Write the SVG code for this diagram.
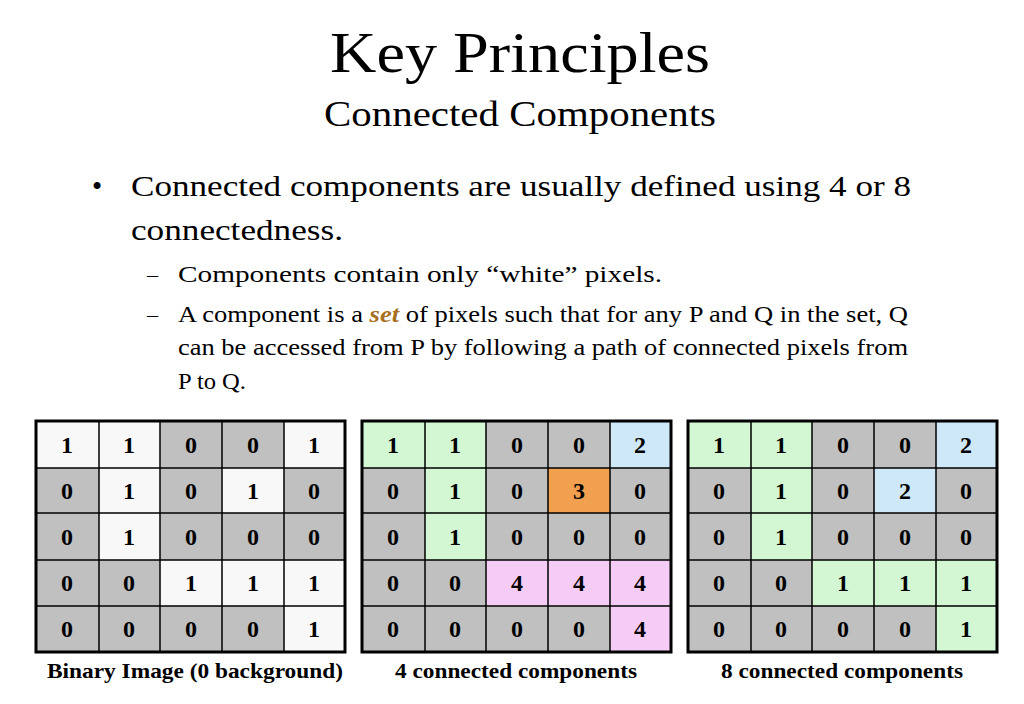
<svg xmlns="http://www.w3.org/2000/svg" width="1024" height="704" viewBox="0 0 1024 704">
<style>
text{font-family:"Liberation Serif","Times New Roman",Times,"Nimbus Roman",serif;fill:#000}
.n{font-size:24px;font-weight:bold;text-anchor:middle}
.cap{font-size:22px;font-weight:bold;text-anchor:middle}
.g{fill:#c0c0c0}.w{fill:#f8f8f8}.gr{fill:#d2f7d2}.b{fill:#cfe8f8}.o{fill:#f0a04f}.p{fill:#f5ccf5}
.ln{stroke:#000;stroke-width:1.5;fill:none}
.out{stroke:#000;stroke-width:3;fill:none}
</style>
<rect width="1024" height="704" fill="#fff"/>
<text x="520" y="72" font-size="58" text-anchor="middle" textLength="380" lengthAdjust="spacingAndGlyphs">Key Principles</text>
<text x="520" y="126" font-size="36" text-anchor="middle" textLength="392" lengthAdjust="spacingAndGlyphs">Connected Components</text>
<text x="92" y="196" font-size="29">•</text>
<text x="131" y="196" font-size="30" textLength="780" lengthAdjust="spacingAndGlyphs">Connected components are usually defined using 4 or 8</text>
<text x="131" y="240" font-size="30" textLength="212" lengthAdjust="spacingAndGlyphs">connectedness.</text>
<text x="147" y="282" font-size="22">–</text>
<text x="178" y="282" font-size="24" textLength="484" lengthAdjust="spacingAndGlyphs">Components contain only “white” pixels.</text>
<text x="147" y="322" font-size="22">–</text>
<text x="178" y="322" font-size="24" textLength="730" lengthAdjust="spacingAndGlyphs">A component is a <tspan fill="#a8701e" font-weight="bold" font-style="italic">set</tspan> of pixels such that for any P and Q in the set, Q</text>
<text x="178" y="355" font-size="24" textLength="730" lengthAdjust="spacingAndGlyphs">can be accessed from P by following a path of connected pixels from</text>
<text x="178" y="389" font-size="24" textLength="68" lengthAdjust="spacingAndGlyphs">P to Q.</text>

<g id="grid1">
<rect x="36" y="421" width="309" height="231" class="g"/>
<rect x="36" y="421" width="124" height="47" class="w"/><rect x="284" y="421" width="61" height="47" class="w"/>
<rect x="99" y="468" width="61" height="92" class="w"/><rect x="222" y="468" width="62" height="45" class="w"/>
<rect x="160" y="560" width="185" height="46" class="w"/><rect x="284" y="606" width="61" height="46" class="w"/>
</g>
<g id="grid2">
<rect x="362" y="421" width="309" height="231" class="g"/>
<rect x="362" y="421" width="124" height="47" class="gr"/><rect x="425" y="468" width="61" height="92" class="gr"/>
<rect x="610" y="421" width="61" height="47" class="b"/><rect x="548" y="468" width="62" height="45" class="o"/>
<rect x="486" y="560" width="185" height="46" class="p"/><rect x="610" y="606" width="61" height="46" class="p"/>
</g>
<g id="grid3">
<rect x="688" y="421" width="309" height="231" class="g"/>
<rect x="688" y="421" width="124" height="47" class="gr"/><rect x="751" y="468" width="61" height="92" class="gr"/>
<rect x="936" y="421" width="61" height="47" class="b"/><rect x="874" y="468" width="62" height="45" class="b"/>
<rect x="812" y="560" width="185" height="46" class="gr"/><rect x="936" y="606" width="61" height="46" class="gr"/>
</g>
<g id="lines">
<path class="ln" d="M99 421V652M160 421V652M222 421V652M284 421V652M36 468H345M36 513H345M36 560H345M36 606H345"/>
<path class="ln" d="M425 421V652M486 421V652M548 421V652M610 421V652M362 468H671M362 513H671M362 560H671M362 606H671"/>
<path class="ln" d="M751 421V652M812 421V652M874 421V652M936 421V652M688 468H997M688 513H997M688 560H997M688 606H997"/>
<rect class="out" x="36" y="421" width="309" height="231"/>
<rect class="out" x="362" y="421" width="309" height="231"/>
<rect class="out" x="688" y="421" width="309" height="231"/>
</g>
<g id="nums1">
<text class="n" x="67" y="453">1</text><text class="n" x="129" y="453">1</text><text class="n" x="191" y="453">0</text><text class="n" x="253" y="453">0</text><text class="n" x="314" y="453">1</text>
<text class="n" x="67" y="499">0</text><text class="n" x="129" y="499">1</text><text class="n" x="191" y="499">0</text><text class="n" x="253" y="499">1</text><text class="n" x="314" y="499">0</text>
<text class="n" x="67" y="545">0</text><text class="n" x="129" y="545">1</text><text class="n" x="191" y="545">0</text><text class="n" x="253" y="545">0</text><text class="n" x="314" y="545">0</text>
<text class="n" x="67" y="591">0</text><text class="n" x="129" y="591">0</text><text class="n" x="191" y="591">1</text><text class="n" x="253" y="591">1</text><text class="n" x="314" y="591">1</text>
<text class="n" x="67" y="637">0</text><text class="n" x="129" y="637">0</text><text class="n" x="191" y="637">0</text><text class="n" x="253" y="637">0</text><text class="n" x="314" y="637">1</text>
</g>
<g id="nums2">
<text class="n" x="393" y="453">1</text><text class="n" x="455" y="453">1</text><text class="n" x="517" y="453">0</text><text class="n" x="579" y="453">0</text><text class="n" x="640" y="453">2</text>
<text class="n" x="393" y="499">0</text><text class="n" x="455" y="499">1</text><text class="n" x="517" y="499">0</text><text class="n" x="579" y="499">3</text><text class="n" x="640" y="499">0</text>
<text class="n" x="393" y="545">0</text><text class="n" x="455" y="545">1</text><text class="n" x="517" y="545">0</text><text class="n" x="579" y="545">0</text><text class="n" x="640" y="545">0</text>
<text class="n" x="393" y="591">0</text><text class="n" x="455" y="591">0</text><text class="n" x="517" y="591">4</text><text class="n" x="579" y="591">4</text><text class="n" x="640" y="591">4</text>
<text class="n" x="393" y="637">0</text><text class="n" x="455" y="637">0</text><text class="n" x="517" y="637">0</text><text class="n" x="579" y="637">0</text><text class="n" x="640" y="637">4</text>
</g>
<g id="nums3">
<text class="n" x="719" y="453">1</text><text class="n" x="781" y="453">1</text><text class="n" x="843" y="453">0</text><text class="n" x="905" y="453">0</text><text class="n" x="966" y="453">2</text>
<text class="n" x="719" y="499">0</text><text class="n" x="781" y="499">1</text><text class="n" x="843" y="499">0</text><text class="n" x="905" y="499">2</text><text class="n" x="966" y="499">0</text>
<text class="n" x="719" y="545">0</text><text class="n" x="781" y="545">1</text><text class="n" x="843" y="545">0</text><text class="n" x="905" y="545">0</text><text class="n" x="966" y="545">0</text>
<text class="n" x="719" y="591">0</text><text class="n" x="781" y="591">0</text><text class="n" x="843" y="591">1</text><text class="n" x="905" y="591">1</text><text class="n" x="966" y="591">1</text>
<text class="n" x="719" y="637">0</text><text class="n" x="781" y="637">0</text><text class="n" x="843" y="637">0</text><text class="n" x="905" y="637">0</text><text class="n" x="966" y="637">1</text>
</g>
<text class="cap" x="195" y="678" textLength="296" lengthAdjust="spacingAndGlyphs">Binary Image (0 background)</text>
<text class="cap" x="516" y="678" textLength="242" lengthAdjust="spacingAndGlyphs">4 connected components</text>
<text class="cap" x="842" y="678" textLength="242" lengthAdjust="spacingAndGlyphs">8 connected components</text>
</svg>
